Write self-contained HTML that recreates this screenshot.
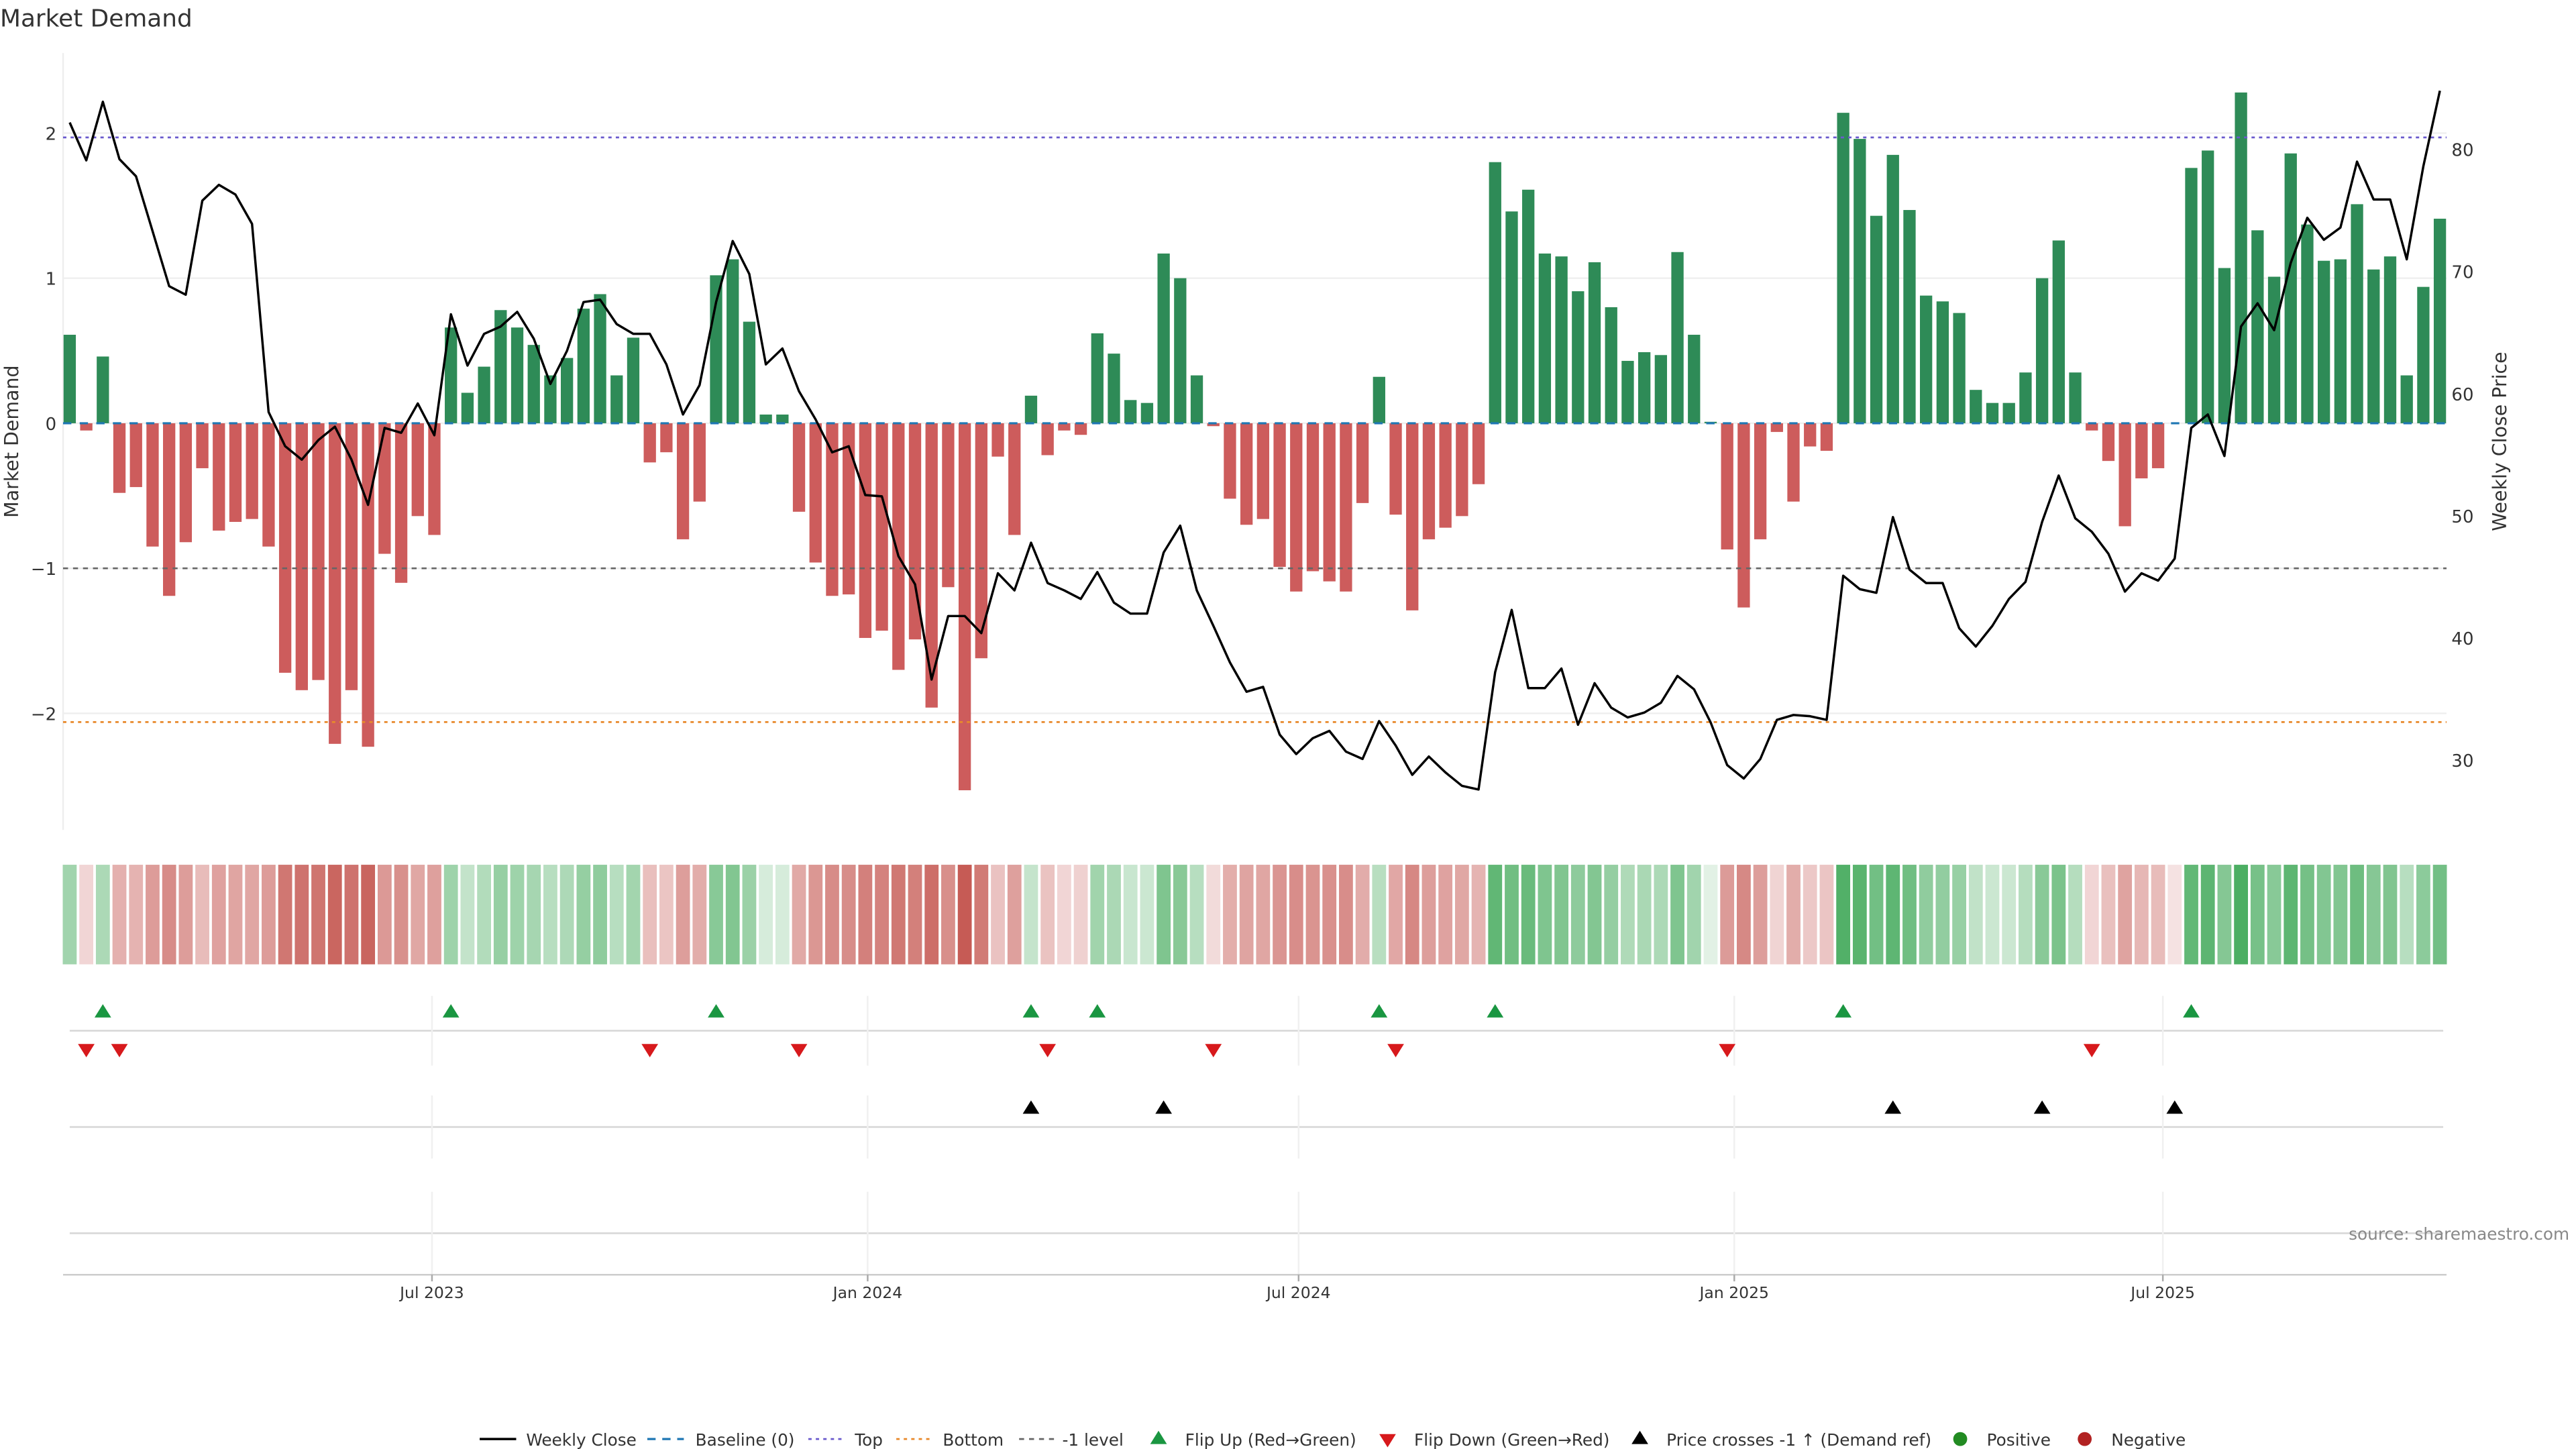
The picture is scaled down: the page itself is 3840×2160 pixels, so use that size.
<!DOCTYPE html>
<html><head><meta charset="utf-8"><title>Market Demand</title>
<style>
html,body{margin:0;padding:0;background:#fff;}
svg{display:block;font-family:"DejaVu Sans","Liberation Sans",sans-serif;}
</style></head>
<body>
<svg id="chart" xmlns="http://www.w3.org/2000/svg" width="3840" height="2160" viewBox="0 0 1552 873" preserveAspectRatio="none">
<text x="0" y="16" font-size="14.5" fill="#333">Market Demand</text>
<g id="grid"></g>
<g id="bars"></g>
<g id="levels"></g>
<g id="priceLine"></g>
<g id="heat"></g>
<g id="markers"></g>
<g id="axes"></g>
<text transform="translate(11,266) rotate(-90)" text-anchor="middle" font-size="11.5" fill="#333">Market Demand</text>
<text transform="translate(1510,266) rotate(-90)" text-anchor="middle" font-size="11.5" fill="#333">Weekly Close Price</text>
<text x="1548" y="747" text-anchor="end" font-size="10" fill="#888">source: sharemaestro.com</text>
<g id="legend"></g>
</svg>
<script>
const demand=[0.61,-0.05,0.46,-0.48,-0.44,-0.85,-1.19,-0.82,-0.31,-0.74,
-0.68,-0.66,-0.85,-1.72,-1.84,-1.77,-2.21,-1.84,-2.23,-0.90,
-1.10,-0.64,-0.77,0.66,0.21,0.39,0.78,0.66,0.54,0.33,
0.45,0.79,0.89,0.33,0.59,-0.27,-0.20,-0.80,-0.54,1.02,
1.13,0.70,0.06,0.06,-0.61,-0.96,-1.19,-1.18,-1.48,-1.43,
-1.70,-1.49,-1.96,-1.13,-2.53,-1.62,-0.23,-0.77,0.19,-0.22,
-0.05,-0.08,0.62,0.48,0.16,0.14,1.17,1.00,0.33,-0.02,
-0.52,-0.70,-0.66,-0.99,-1.16,-1.02,-1.09,-1.16,-0.55,0.32,
-0.63,-1.29,-0.80,-0.72,-0.64,-0.42,1.80,1.46,1.61,1.17,
1.15,0.91,1.11,0.80,0.43,0.49,0.47,1.18,0.61,0.01,
-0.87,-1.27,-0.80,-0.06,-0.54,-0.16,-0.19,2.14,1.96,1.43,
1.85,1.47,0.88,0.84,0.76,0.23,0.14,0.14,0.35,1.00,
1.26,0.35,-0.05,-0.26,-0.71,-0.38,-0.31,0,1.76,1.88,
1.07,2.28,1.33,1.01,1.86,1.37,1.12,1.13,1.51,1.06,
1.15,0.33,0.94,1.41];
const price=[82.2,79.1,83.9,79.2,77.8,73.3,68.8,68.1,75.8,77.1,
76.3,73.9,58.5,55.7,54.6,56.2,57.3,54.6,50.9,57.2,
56.8,59.2,56.6,66.5,62.3,64.9,65.5,66.7,64.5,60.8,
63.5,67.5,67.7,65.7,64.9,64.9,62.4,58.3,60.7,67.5,
72.5,69.8,62.4,63.7,60.2,57.9,55.2,55.7,51.7,51.6,
46.7,44.4,36.6,41.8,41.8,40.4,45.3,43.9,47.8,44.5,
43.9,43.2,45.4,42.9,42.0,42.0,47.0,49.2,43.9,41.0,
38.0,35.6,36.0,32.1,30.5,31.8,32.4,30.7,30.1,33.2,
31.2,28.8,30.3,29.0,27.9,27.6,37.2,42.3,35.9,35.9,
37.5,32.9,36.3,34.3,33.5,33.9,34.7,36.9,35.8,33.1,
29.6,28.5,30.1,33.3,33.7,33.6,33.3,45.1,44.0,43.7,
49.9,45.6,44.5,44.5,40.8,39.3,41.0,43.2,44.6,49.5,
53.3,49.8,48.7,46.9,43.8,45.3,44.7,46.5,57.2,58.3,
54.9,65.5,67.4,65.2,70.7,74.4,72.6,73.6,79.0,75.9,
75.9,71.0,78.6,84.8];
const firstWeek="2023-01-29";
const tickLabels=["Jul 2023","Jan 2024","Jul 2024","Jan 2025","Jul 2025"];
const tickDates=["2023-07-01","2024-01-01","2024-07-01","2025-01-01","2025-07-01"];
const demandTicks=[-2,-1,0,1,2];
const priceTicks=[30,40,50,60,70,80];
const topLevel=1.97;
const bottomLevel=-2.06;
const minusLevel=-1;

const NS="http://www.w3.org/2000/svg";
function mk(tag,attrs,parent){const e=document.createElementNS(NS,tag);for(const k in attrs)e.setAttribute(k,attrs[k]);parent.appendChild(e);return e;}
const X0=42,XS=9.986,L=38,R=1474;
function xIdx(i){return X0+i*XS;}
function xDate(s){const d=(Date.parse(s)-Date.parse(firstWeek))/86400000/7;return xIdx(d);}
function yD(v){return 255-v*87.4;}
function yP(p){return 90+(80-p)*7.36;}
function pFromY(y){return 80-(y-90)/7.36;}

const grid=document.getElementById('grid');
let e=mk('line',{x1:L,y1:32,x2:L,y2:500,stroke:'#eeeeee','stroke-width':1},grid);


demandTicks.forEach(t=>{
  let g=mk('line',{x1:L,y1:yD(t),x2:R,y2:yD(t),stroke:'#efefef','stroke-width':1},grid);
  
  
  let tx=mk('text',{x:34,y:yD(t)+4,'text-anchor':'end','font-size':10.5,fill:'#333'},grid);
  tx.textContent=t<0?'\u2212'+Math.abs(t):String(t);
  
  
});
priceTicks.forEach(t=>{
  let tx=mk('text',{x:1477,y:yP(t)+4,'font-size':10.5,fill:'#333'},grid);
  tx.textContent=String(t);
  
  
});

const bars=document.getElementById('bars');
demand.forEach((v,i)=>{
  const y0=yD(0),y1=yD(v);
  let b=mk('rect',{x:xIdx(i)-3.7,y:Math.min(y0,y1),width:7.4,height:Math.abs(y1-y0),fill:v>=0?'#2e8b57':'#cd5c5c'},bars);
  
  
});

const lv=document.getElementById('levels');
e=mk('line',{x1:L,y1:yD(0),x2:R,y2:yD(0),stroke:'#1f77b4','stroke-width':1.3,'stroke-dasharray':'5,5'},lv);


e=mk('line',{x1:L,y1:yD(topLevel),x2:R,y2:yD(topLevel),stroke:'#6a5acd','stroke-width':1.1,'stroke-dasharray':'2,2.5'},lv);


e=mk('line',{x1:L,y1:yD(bottomLevel),x2:R,y2:yD(bottomLevel),stroke:'#e8892b','stroke-width':1.1,'stroke-dasharray':'2,2.5'},lv);


e=mk('line',{x1:L,y1:yD(minusLevel),x2:R,y2:yD(minusLevel),stroke:'#666','stroke-width':1.1,'stroke-dasharray':'3,3'},lv);



const pl=document.getElementById('priceLine');
e=mk('polyline',{points:price.map((p,i)=>xIdx(i).toFixed(2)+','+yP(p).toFixed(2)).join(' '),fill:'none',stroke:'#000','stroke-width':1.4,'stroke-linejoin':'round'},pl);



function mix(a,b,t){return a.map((c,k)=>Math.round(c+(b[k]-c)*t));}
const heat=document.getElementById('heat');
demand.forEach((v,i)=>{
  const t=Math.pow(Math.min(Math.abs(v)/2.53,1),0.6);
  const c=v>0?mix([232,244,234],[66,169,90],t):mix([245,226,226],[198,91,85],t);
  let r=mk('rect',{x:xIdx(i)-4.2,y:521,width:8.4,height:60,fill:'rgb('+c.join(',')+')'},heat);
  
  
});

const mg=document.getElementById('markers');
[621,679,743].forEach(y=>{
  let l=mk('line',{x1:42,y1:y,x2:1472,y2:y,stroke:'#d6d6d6','stroke-width':1},mg);
  
  
});
tickDates.forEach(d=>{
  const x=xDate(d);
  [[600,642],[660,698],[718,768]].forEach(s=>{
    let l=mk('line',{x1:x,y1:s[0],x2:x,y2:s[1],stroke:'#f0f0f0','stroke-width':1},mg);
    
    
  });
});
function tri(x,y,up,col,name,parent){
  const p=up?[[x-5,y+4],[x+5,y+4],[x,y-4]]:[[x-5,y-4],[x+5,y-4],[x,y+4]];
  let t=mk('polygon',{points:p.map(q=>q.join(',')).join(' '),fill:col},parent);
  
  
}
const crossPrice=pFromY(yD(minusLevel));
for(let i=1;i<demand.length;i++){
  if(demand[i-1]<=0&&demand[i]>0) tri(xIdx(i),609,true,'#1a9641','flip-up-marker',mg);
  if(demand[i-1]>=0&&demand[i]<0) tri(xIdx(i),633,false,'#d7191c','flip-down-marker',mg);
  if(price[i-1]<crossPrice&&price[i]>=crossPrice) tri(xIdx(i),667,true,'#000','price-cross-marker',mg);
}

const ax=document.getElementById('axes');
e=mk('line',{x1:L,y1:768,x2:R,y2:768,stroke:'#cccccc','stroke-width':1},ax);


tickDates.forEach((d,k)=>{
  const x=xDate(d);
  let l=mk('line',{x1:x,y1:768,x2:x,y2:772,stroke:'#aaa','stroke-width':1},ax);
  
  
  let t=mk('text',{x:x,y:782,'text-anchor':'middle','font-size':9.5,fill:'#333'},ax);
  t.textContent=tickLabels[k];
  
  
});

const lg=document.getElementById('legend');
const ly=867;
function ltext(x,s){let t=mk('text',{x:x,y:ly+4,'font-size':10,fill:'#333'},lg);t.textContent=s;}
function lline(x1,col,dash,w){let l=mk('line',{x1:x1,y1:ly,x2:x1+22,y2:ly,stroke:col,'stroke-width':w,'stroke-dasharray':dash},lg);}
lline(289,'#000','none',1.4);ltext(317,'Weekly Close');
lline(390,'#1f77b4','5,4',1.3);ltext(419,'Baseline (0)');
lline(487,'#6a5acd','2,2.5',1.1);ltext(515,'Top');
lline(540,'#e8892b','2,2.5',1.1);ltext(568,'Bottom');
lline(614,'#666','3,3',1.1);ltext(640,'-1 level');
tri(698,ly-1,true,'#1a9641','legend-flip-up',lg);ltext(714,'Flip Up (Red\u2192Green)');
tri(836,ly+1,false,'#d7191c','legend-flip-down',lg);ltext(852,'Flip Down (Green\u2192Red)');
tri(988,ly-1,true,'#000','legend-price-cross',lg);ltext(1004,'Price crosses -1 \u2191 (Demand ref)');
e=mk('circle',{cx:1181,cy:ly,r:4.2,fill:'#228b22'},lg);


ltext(1197,'Positive');
e=mk('circle',{cx:1256,cy:ly,r:4.2,fill:'#b22222'},lg);


ltext(1272,'Negative');
</script>
</body></html>
